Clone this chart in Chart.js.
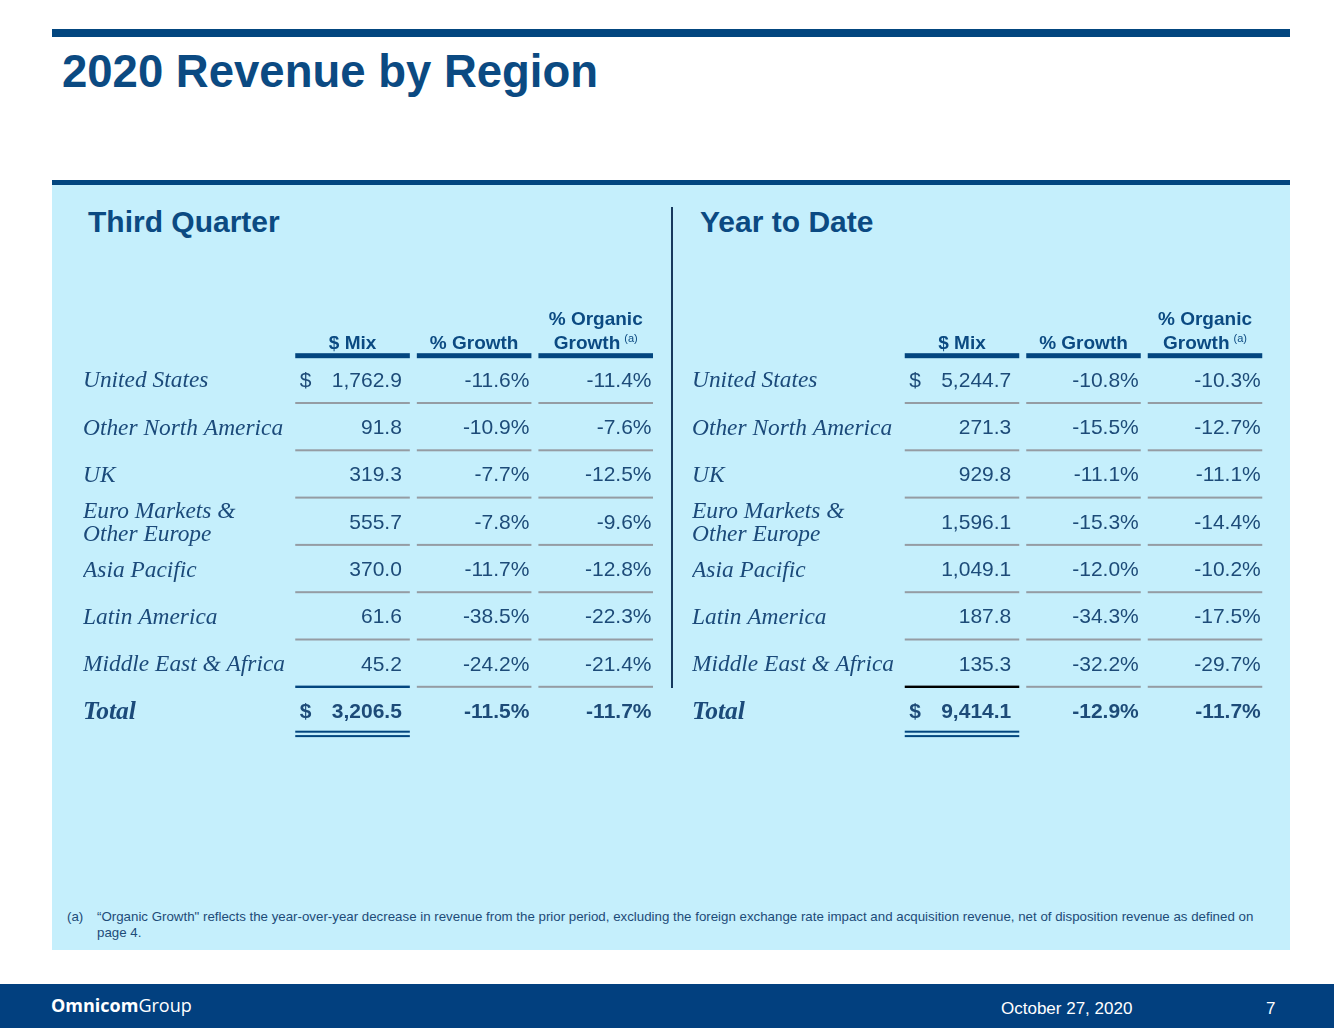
<!DOCTYPE html>
<html>
<head>
<meta charset="utf-8">
<title>2020 Revenue by Region</title>
<script src="https://cdn.jsdelivr.net/npm/chart.js@4.4.1/dist/chart.umd.min.js"></script>
<style>
  html, body { margin: 0; padding: 0; }
  body { width: 1334px; height: 1028px; position: relative; background: #ffffff; overflow: hidden;
         font-family: "Liberation Sans", Arial, sans-serif; }
  .abs { position: absolute; }
  .navy { background: #03467f; }
  .h1 { left: 62px; top: 48.5px; font-size: 45.5px; font-weight: bold; line-height: 1; color: #0b4a82; white-space: nowrap; }
  .h2 { top: 207px; font-size: 30px; font-weight: bold; line-height: 1; color: #0b4a82; white-space: nowrap; }
  .note { font-size: 13.3px; line-height: 16.7px; color: #1d4b78; white-space: nowrap; }
  .foot { color: #ffffff; white-space: nowrap; line-height: 1; }
</style>
</head>
<body>
<div class="abs navy" style="left:52px;top:29px;width:1238px;height:8px"></div>
<div class="abs h1">2020 Revenue by Region</div>
<div class="abs navy" style="left:52px;top:180px;width:1238px;height:5px"></div>
<div class="abs" style="left:52px;top:185px;width:1238px;height:765px;background:#c5effc"></div>
<div class="abs h2" style="left:88px">Third Quarter</div>
<div class="abs h2" style="left:700px">Year to Date</div>

<div class="abs" style="left:52px;top:300px;width:620px;height:460px"><canvas id="q3"></canvas></div>
<div class="abs" style="left:672px;top:300px;width:618px;height:460px"><canvas id="ytd"></canvas></div>
<div class="abs" style="left:671px;top:207px;width:2px;height:481px;background:#17385d"></div>

<div class="abs note" style="left:67px;top:908.5px">(a)</div>
<div class="abs note" style="left:97px;top:908.5px">“Organic Growth" reflects the year-over-year decrease in revenue from the prior period, excluding the foreign exchange rate impact and acquisition revenue, net of disposition revenue as defined on<br>page 4.</div>

<div class="abs" style="left:0;top:984px;width:1334px;height:44px;background:#02407f"></div>
<div class="abs foot" style="left:51px;top:996px;font-family:'Open Sans',sans-serif;font-size:18px"><b>Omnicom</b>Group</div>
<div class="abs foot" style="left:1001px;top:1000px;font-size:17px">October 27, 2020</div>
<div class="abs foot" style="left:1266px;top:1000px;font-size:17px">7</div>

<script>
// ---------------- data ----------------
const regions = ['United States', 'Other North America', 'UK', 'Euro Markets & Other Europe',
                 'Asia Pacific', 'Latin America', 'Middle East & Africa', 'Total'];
const regionLines = { 'Euro Markets & Other Europe': ['Euro Markets &', 'Other Europe'] };
const columns = ['$ Mix', '% Growth', '% Organic Growth'];
const headerLines = [['$ Mix'], ['% Growth'], ['% Organic', 'Growth']];
const headerNotes = ['', '', '(a)'];
const dollarRows = ['United States', 'Total'];
const totalRow = 'Total';

const q3Mix      = [1762.9, 91.8, 319.3, 555.7, 370.0, 61.6, 45.2, 3206.5];
const q3Growth   = [-11.6, -10.9, -7.7, -7.8, -11.7, -38.5, -24.2, -11.5];
const q3Organic  = [-11.4, -7.6, -12.5, -9.6, -12.8, -22.3, -21.4, -11.7];

const ytdMix     = [5244.7, 271.3, 929.8, 1596.1, 1049.1, 187.8, 135.3, 9414.1];
const ytdGrowth  = [-10.8, -15.5, -11.1, -15.3, -12.0, -34.3, -32.2, -12.9];
const ytdOrganic = [-10.3, -12.7, -11.1, -14.4, -10.2, -17.5, -29.7, -11.7];

// ---------------- styling ----------------
const NAVY = '#03467f', TEXT = '#1d4b78', LABEL = '#1b4a7a', GRAY = '#959ca3';
const SANS = '"Liberation Sans", Arial, sans-serif';
const SERIF = '"Liberation Serif", "Times New Roman", serif';
const VAL_SIZE = 21;

const fmtMix = v => v.toLocaleString('en-US', { minimumFractionDigits: 1, maximumFractionDigits: 1 });
const fmtPct = v => v.toFixed(1) + '%';

const tablePlugin = {
  id: 'regionTable',
  afterDatasetsDraw(chart, args, opts) {
    const ctx = chart.ctx;
    const xs = chart.scales.x, ys = chart.scales.y;
    const nC = xs.getLabels().length, nR = ys.getLabels().length;
    const half = (xs.right - xs.left) / nC / 2;
    const inset = 3.5;
    const pads = [11.5, 5.5, 5];
    ctx.save();

    for (let c = 0; c < nC; c++) {
      const cx = xs.getPixelForValue(c);
      const x0 = cx - half + inset, w = 2 * (half - inset);
      // header rule
      ctx.fillStyle = NAVY;
      ctx.fillRect(x0, ys.top - 2.5, w, 5);
      // header text
      ctx.fillStyle = '#0b4a82';
      ctx.textBaseline = 'alphabetic';
      const lines = headerLines[c];
      lines.forEach((ln, k) => {
        const base = ys.top - 6.3 - (lines.length - 1 - k) * 24.2;
        ctx.font = 'bold 19px ' + SANS;
        const isLast = k === lines.length - 1;
        if (isLast && headerNotes[c]) {
          const mw = ctx.measureText(ln).width;
          ctx.font = '11px ' + SANS;
          const nw = ctx.measureText(headerNotes[c]).width;
          const total = mw + 4 + nw;
          const sx = cx - total / 2;
          ctx.textAlign = 'left';
          ctx.font = 'bold 19px ' + SANS;
          ctx.fillText(ln, sx, base);
          ctx.font = '11px ' + SANS;
          ctx.fillText(headerNotes[c], sx + mw + 4, base - 7.5);
        } else {
          ctx.textAlign = 'center';
          ctx.fillText(ln, cx, base);
        }
      });
      // row separators
      for (let r = 0; r < nR - 1; r++) {
        const y = (ys.getPixelForValue(r) + ys.getPixelForValue(r + 1)) / 2;
        const special = (r === nR - 2 && c === 0);
        ctx.fillStyle = special ? opts.totalRuleColor : GRAY;
        const th = special ? 2.4 : 2;
        ctx.fillRect(x0, y - th / 2, w, th);
      }
      // double rule under total mix
      if (c === 0) {
        ctx.fillStyle = NAVY;
        ctx.fillRect(x0, ys.bottom - 3.4, w, 2);
        ctx.fillRect(x0, ys.bottom + 1, w, 2);
      }
    }

    // cell values
    chart.data.datasets.forEach((ds, c) => {
      const meta = chart.getDatasetMeta(c);
      meta.data.forEach((el, i) => {
        const pt = ds.data[i];
        const bold = pt.y === totalRow;
        const txt = c === 0 ? fmtMix(pt.v) : fmtPct(pt.v);
        ctx.font = (bold ? 'bold ' : '') + VAL_SIZE + 'px ' + SANS;
        ctx.fillStyle = TEXT;
        ctx.textBaseline = 'alphabetic';
        const base = el.y + 0.358 * VAL_SIZE;
        ctx.textAlign = 'right';
        ctx.fillText(txt, el.x + half - pads[c], base);
        if (c === 0 && dollarRows.includes(pt.y)) {
          ctx.textAlign = 'left';
          ctx.fillText('$', el.x - half + 8, base);
        }
      });
    });
    ctx.restore();
  }
};

function makeTable(id, mix, growth, organic, pad, axisW, totalRuleColor) {
  const datasets = [mix, growth, organic].map((vals, c) => ({
    label: columns[c],
    data: regions.map((r, i) => ({ x: columns[c], y: r, v: vals[i] })),
    pointRadius: 0,
    pointHoverRadius: 0,
    showLine: false
  }));
  return new Chart(document.getElementById(id), {
    type: 'scatter',
    data: { datasets },
    plugins: [tablePlugin],
    options: {
      responsive: true,
      maintainAspectRatio: false,
      animation: false,
      events: [],
      layout: { padding: pad },
      plugins: {
        legend: { display: false },
        tooltip: { enabled: false },
        regionTable: { totalRuleColor }
      },
      scales: {
        x: { type: 'category', labels: columns, offset: true, display: false },
        y: {
          type: 'category',
          labels: regions,
          offset: true,
          position: 'left',
          grid: { display: false, drawTicks: false },
          border: { display: false },
          afterFit: s => { s.width = axisW; },
          ticks: {
            autoSkip: false,
            padding: 0,
            crossAlign: 'far',
            labelOffset: 2,
            color: LABEL,
            callback: (v, i) => regionLines[regions[i]] || regions[i],
            font: c => ({
              family: SERIF,
              style: 'italic',
              weight: regions[c.index] === totalRow ? 'bold' : 'normal',
              size: regions[c.index] === totalRow ? 25.5 : 23.4,
              lineHeight: 0.95
            })
          }
        }
      }
    }
  });
}

makeTable('q3', q3Mix, q3Growth, q3Organic,
  { left: 31, right: 15.5, top: 55.7, bottom: 25.9 }, 208.75, NAVY);
makeTable('ytd', ytdMix, ytdGrowth, ytdOrganic,
  { left: 20, right: 24.25, top: 55.7, bottom: 25.9 }, 209.25, '#000000');
</script>
</body>
</html>
